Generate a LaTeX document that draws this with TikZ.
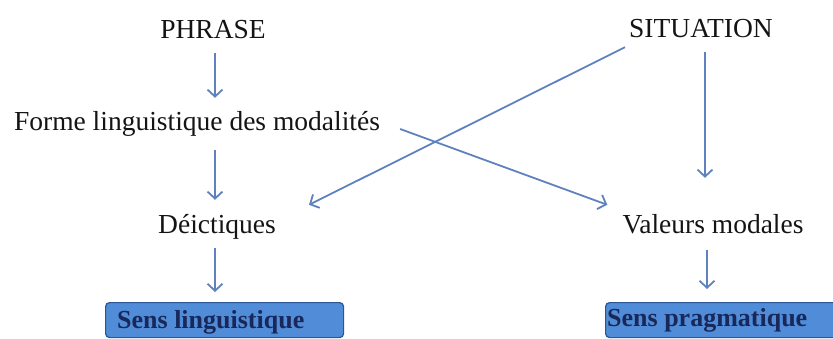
\documentclass[tikz,border=0pt]{standalone}
\usepackage{fontspec}
\setmainfont{Liberation Serif}
\usetikzlibrary{arrows.meta}
\definecolor{arrowblue}{RGB}{95,130,190}
\definecolor{boxfill}{RGB}{80,140,215}
\definecolor{boxline}{RGB}{45,85,145}
\definecolor{boxtext}{RGB}{25,40,90}
\definecolor{txtcol}{RGB}{20,20,20}
\tikzset{
  txt/.style={font=\fontsize{27.5}{33}\selectfont, text=txtcol, inner sep=0pt, text height=19pt, text depth=6pt, anchor=base},
  boxtxt/.style={font=\bfseries\fontsize{26}{31}\selectfont, text=boxtext, inner sep=0pt, anchor=base west},
  bluebox/.style={draw=boxline, fill=boxfill, line width=1.2pt, rounded corners=4pt, anchor=north west, inner sep=0pt},
  arr/.style={draw=arrowblue, line width=1.8pt, -{Straight Barb[length=7pt,width=15pt,line width=1.8pt]}}
}
\begin{document}
\begin{tikzpicture}[x=1pt,y=-1pt]
\useasboundingbox (0,0) rectangle (833,338);
% text nodes
\node[txt] (phrase) at (213,38) {PHRASE};
\node[txt] (situation) at (701,37) {SITUATION};
\node[txt] (forme) at (197,130) {Forme linguistique des modalités};
\node[txt] (deict) at (217,233) {Déictiques};
\node[txt] (valeurs) at (713,233) {Valeurs modales};
% boxes
\node[bluebox, minimum width=238pt, minimum height=35pt] (slbox) at (105,302) {};
\node[bluebox, minimum width=240pt, minimum height=35pt] (spbox) at (605,302) {};
\node[boxtxt] (sltxt) at (117,328) {Sens linguistique};
\node[boxtxt] (sptxt) at (607,326) {Sens pragmatique};
% arrows
\draw[arr, shorten <=9pt, shorten >=13pt] ([xshift=2pt]phrase.south) -- ([xshift=2pt]phrase.south |- forme.north);
\draw[arr, shorten <=14pt, shorten >=14pt] ([xshift=2pt]phrase.south |- forme.south) -- ([xshift=2pt]phrase.south |- deict.north);
\draw[arr, shorten <=9pt, shorten >=10pt] ([xshift=-2pt]deict.south) -- ([xshift=-2pt]deict.south |- slbox.north);
\draw[arr, shorten <=9pt, shorten >=36pt] ([xshift=4pt]situation.south) -- ([xshift=4pt]situation.south |- valeurs.north);
\draw[arr, shorten <=11pt, shorten >=13pt] ([xshift=-6pt]valeurs.south) -- ([xshift=-6pt]valeurs.south |- spbox.north);
\draw[arr] ([xshift=-4pt,yshift=-4pt]situation.south west) -- ([xshift=33pt,yshift=9pt]deict.north east);
\draw[arr] ([xshift=20pt,yshift=-5.5pt]forme.east) -- ([xshift=-15pt,yshift=9pt]valeurs.north west);
\end{tikzpicture}
\end{document}
